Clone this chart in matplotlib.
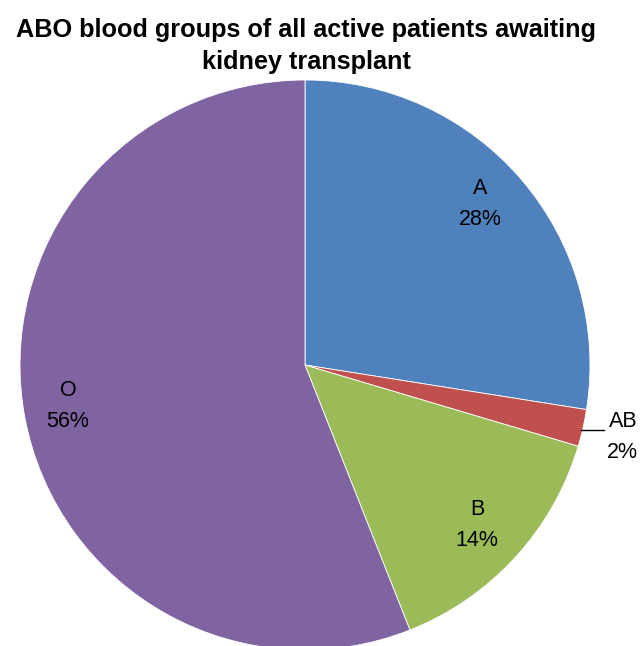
import matplotlib
matplotlib.use("Agg")
import matplotlib.pyplot as plt

categories = ["A", "AB", "B", "O"]
values = [27.5, 2.1, 14.4, 56.0]
pct_labels = ["28%", "2%", "14%", "56%"]
colors = ["#4F81BD", "#C0504D", "#9BBB59", "#8064A2"]
title_lines = ["ABO blood groups of all active patients awaiting", "kidney transplant"]

W, H = 644, 646
fig = plt.figure(figsize=(W / 100, H / 100), dpi=100)
cx, cy, r = 305, 365, 285
ax = fig.add_axes([(cx - r) / W, (H - cy - r) / H, 2 * r / W, 2 * r / H])
ax.pie(values, colors=colors, startangle=90, counterclock=False, radius=1,
       wedgeprops=dict(linewidth=0.6, edgecolor="white"))
ax.set_xlim(-1, 1)
ax.set_ylim(-1, 1)
ax.set_aspect("equal")
ax.axis("off")

font = "Liberation Sans"
label_pos = {"A": (0.614, 0.565), "AB": (1.115, -0.253), "B": (0.604, -0.561), "O": (-0.832, -0.144)}
for cat, p in zip(categories, pct_labels):
    x, y = label_pos[cat]
    ax.text(x, y, f"{cat}\n{p}", ha="center", va="center",
            fontsize=15.5, family=font, linespacing=1.65)
ax.plot([0.97, 1.05], [-0.228, -0.228], color="black", lw=1, clip_on=False)

for i, line in enumerate(title_lines):
    fig.text(306 / W, 1 - (30 + 32 * i) / H, line, ha="center", va="center",
             fontsize=18.2, fontweight="bold", family=font)

fig.savefig("out.png", dpi=100)
